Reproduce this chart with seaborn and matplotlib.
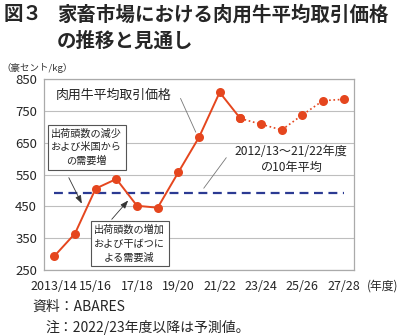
import matplotlib
matplotlib.use("Agg")
import matplotlib.pyplot as plt
import seaborn as sns
import pandas as pd
import numpy as np

years = ["2013/14", "14/15", "15/16", "16/17", "17/18", "18/19", "19/20", "20/21",
         "21/22", "22/23", "23/24", "24/25", "25/26", "26/27", "27/28"]
prices = [294, 365, 506, 536, 452, 446, 557, 667, 808, 726, 708, 690, 737, 782, 786]
forecast_start = 9  # 2022/23 onward are forecasts
average_10yr = 493
y_ticks = [250, 350, 450, 550, 650, 750, 850]
x_tick_labels = ["2013/14", "15/16", "17/18", "19/20", "21/22", "23/24", "25/26", "27/28"]

sns.set_theme(style="white")
plt.rcParams['font.family'] = ['Noto Sans CJK JP', 'DejaVu Sans']

df = pd.DataFrame({"idx": np.arange(len(years)), "year": years, "price": prices})
actual = df.iloc[:forecast_start + 1]
fcst = df.iloc[forecast_start:]

fig = plt.figure(figsize=(4.0, 3.36), dpi=100)
ax = fig.add_axes([0.11, 0.196, 0.775, 0.569])

red = "#E5461E"
blue = "#2B3A92"
sns.lineplot(data=actual, x="idx", y="price", ax=ax, color=red, lw=1.4,
             marker="o", markersize=6.5, markeredgewidth=0)
sns.lineplot(data=fcst, x="idx", y="price", ax=ax, color=red, lw=1.2,
             linestyle=(0, (1, 1.6)), marker="o", markersize=6.5, markeredgewidth=0)
ax.plot([df.idx.iloc[0], df.idx.iloc[-1]], [average_10yr, average_10yr],
        color=blue, lw=1.6, linestyle=(0, (4, 2.5)), zorder=1)

ax.set_xlim(-0.5, len(years) - 0.5)
ax.set_ylim(250, 850)
ax.set_yticks(y_ticks)
ax.yaxis.grid(True, color="#BEBEBE", lw=0.8)
ax.set_axisbelow(True)
label_pos = [years.index(l) for l in x_tick_labels]
ax.set_xticks(label_pos)
ax.set_xticklabels(x_tick_labels, fontsize=9)
ax.set_xticks(np.arange(-0.5, len(years), 1.0), minor=True)
ax.tick_params(axis="x", which="major", length=0, pad=7)
ax.tick_params(axis="x", which="minor", length=3, color="#888888", direction="out")
ax.tick_params(axis="y", length=0, labelsize=9.5, pad=5)
ax.set_xlabel("")
ax.set_ylabel("")
for s in ax.spines.values():
    s.set_color("#AAAAAA")
    s.set_linewidth(0.9)

# annotations
ax.text(2.89, 800, "肉用牛平均取引価格", fontsize=9.3, ha="center", va="center",
        color="#222222")
ax.annotate("", xy=(6.9, 675), xytext=(6.05, 797),
            arrowprops=dict(arrowstyle="-", color="#777777", lw=0.6))

ax.text(1.56, 635, "出荷頭数の減少\nおよび米国から\nの需要増", fontsize=7.3,
        ha="center", va="center", linespacing=1.45, color="#222222",
        bbox=dict(boxstyle="square,pad=0.35", fc="white", ec="#555555", lw=0.8))
ax.annotate("", xy=(1.39, 451), xytext=(0.64, 548),
            arrowprops=dict(arrowstyle="-|>,head_length=0.4,head_width=0.15",
                            color="#333333", lw=0.6))

ax.text(3.64, 333, "出荷頭数の増加\nおよび干ばつに\nよる需要減", fontsize=7.3,
        ha="center", va="center", linespacing=1.45, color="#222222",
        bbox=dict(boxstyle="square,pad=0.35", fc="white", ec="#555555", lw=0.8))
ax.annotate("", xy=(3.66, 475), xytext=(2.69, 403),
            arrowprops=dict(arrowstyle="-|>,head_length=0.4,head_width=0.15",
                            color="#333333", lw=0.6))

ax.text(11.47, 597, "2012/13～21/22年度\nの10年平均", fontsize=8.7, ha="center",
        va="center", linespacing=1.25, color="#222222")
ax.annotate("", xy=(7.15, 500), xytext=(8.4, 610),
            arrowprops=dict(arrowstyle="-", color="#777777", lw=0.6))

# titles and notes
fig.text(4 / 400, 1 - 15 / 336, "図３", fontsize=14, fontweight="bold",
         ha="left", va="center")
fig.text(57 / 400, 1 - 15 / 336, "家畜市場における肉用牛平均取引価格", fontsize=14,
         fontweight="bold", ha="left", va="center")
fig.text(57 / 400, 1 - 41 / 336, "の推移と見通し", fontsize=14,
         fontweight="bold", ha="left", va="center")
fig.text(1 / 400, 1 - 68 / 336, "（豪セント/kg）", fontsize=6.8, ha="left",
         va="center", color="#333333")
fig.text(367 / 400, 1 - 286 / 336, "(年度)", fontsize=8.5, ha="left", va="center")
fig.text(32 / 400, 1 - 307 / 336, "資料：ABARES", fontsize=10, ha="left", va="center")
fig.text(45 / 400, 1 - 327 / 336, "注：2022/23年度以降は予測値。", fontsize=10,
         ha="left", va="center")

fig.savefig("out.png", dpi=100, facecolor="white")
